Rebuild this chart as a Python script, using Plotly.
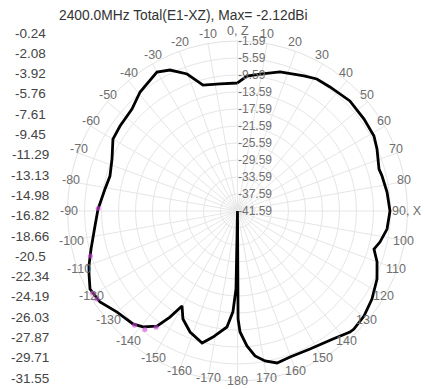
import math
import plotly.graph_objects as go

W, H = 425, 389

# Pattern data: angle (deg, clockwise from Z) and gain (dBi)
theta = [0, 4, 9.3, 17, 26.2, 31, 36.7, 45.6, 54, 61.2, 66, 73.5, 76.4, 82.8, 90,
         96.9, 102.3, 105.6, 110, 116, 123.2, 129.7, 135.4, 137.1, 143.3, 152.3,
         160.2, 165.4, 169.6, 173.1, 176, 178.8, 179.7, 180, 181.1, 182.6, 185.2,
         191, 195, 201.4, 206.8, 210.3, 212.5, 215, 219.2, 222.8, 230, 236.5,
         242.1, 247, 249.7, 255.5, 264, 270.8, 279.4, 285.3, 292.5, 300, 305.9,
         314, 320.7, 329.9, 334.4, 339.8, 344.7, 352.2, 360]
gain = [-11.47, -9.75, -8.93, -7.38, -6.18, -5.35, -5.19, -4.58, -4.79, -4.95, -5.66,
        -6.86, -6.6, -6.13, -5.71, -6.15, -7.28, -8.25, -6.65, -5.07, -3.78, -2.91,
        -2.58, -2.72, -4.01, -4.91, -5.07, -4.65, -5.71, -7.24, -9.75, -13.12,
        -16.18, -41.59, -23.24, -17.83, -14.18, -11.38, -9.43, -11.0, -13.12,
        -15.71, -12.01, -8.55, -6.39, -5.38, -4.6, -2.79, -2.32, -3.64, -4.32,
        -6.0, -7.87, -8.77, -9.99, -10.48, -9.63, -7.75, -7.47, -7.07, -5.4, -3.8,
        -4.81, -7.24, -10.86, -11.42, -11.47]

# highlighted (magenta) samples
mark_theta = [271, 253, 240.5, 238, 222, 218, 215]
mark_gain = [-8.8, -5.4, -2.4, -2.5, -5.4, -6.2, -8.2]

# radial ticks
r_ticks = [-41.59, -37.59, -33.59, -29.59, -25.59, -21.59, -17.59, -13.59, -9.59, -5.59, -1.59]
r_min, r_max = -41.59, -1.59

# angular ticks
ang_vals = list(range(0, 360, 10))
ang_text = []
for a in ang_vals:
    if a == 0:
        ang_text.append("0, Z")
    elif a == 90:
        ang_text.append("90, X")
    elif a <= 180:
        ang_text.append(str(a))
    else:
        ang_text.append(str(a - 360))

# legend scale labels on the left
scale_labels = ["-0.24", "-2.08", "-3.92", "-5.76", "-7.61", "-9.45", "-11.29", "-13.13",
                "-14.98", "-16.82", "-18.66", "-20.5", "-22.34", "-24.19", "-26.03",
                "-27.87", "-29.71", "-31.55"]

title_text = "2400.0MHz Total(E1-XZ), Max= -2.12dBi"

cx, cy, R = 237.5, 211, 170
ring_x, ring_top, ring_bottom = 169, 180, 170  # px radii of the angle-label ring

fig = go.Figure()
fig.add_trace(go.Scatterpolar(r=gain, theta=theta, mode="lines",
                              line=dict(color="black", width=2.8), hoverinfo="skip"))
fig.add_trace(go.Scatterpolar(r=mark_gain, theta=mark_theta, mode="markers",
                              marker=dict(color="#d040e0", size=5, opacity=0.6),
                              hoverinfo="skip"))

fig.update_layout(
    width=W, height=H,
    margin=dict(l=0, r=0, t=0, b=0),
    paper_bgcolor="white",
    showlegend=False,
    font=dict(family="Liberation Sans, Arial, sans-serif"),
    polar=dict(
        bgcolor="white",
        domain=dict(x=[(cx - R) / W, (cx + R) / W],
                    y=[(H - cy - R) / H, (H - cy + R) / H]),
        angularaxis=dict(rotation=90, direction="clockwise",
                         tickmode="array", tickvals=ang_vals,
                         showticklabels=False,
                         ticks="", showline=True, linecolor="#e2e2e2",
                         gridcolor="#e6e6e6", gridwidth=1),
        radialaxis=dict(range=[r_min, r_max], tickmode="array", tickvals=r_ticks,
                        ticktext=[f"{v:.2f}" for v in r_ticks],
                        angle=90, tickangle=90, side="clockwise",
                        showline=False, ticks="",
                        gridcolor="#e6e6e6", gridwidth=1,
                        tickfont=dict(size=12, color="#707070")),
    ),
)

anns = [dict(text=title_text, x=183 / W, y=1 - 15 / H, xref="paper", yref="paper",
             showarrow=False, xanchor="center", yanchor="middle",
             font=dict(size=13.8, color="#333"))]
y0, dy = 33, 20.3
for i, s in enumerate(scale_labels):
    anns.append(dict(text=s, x=30 / W, y=1 - (y0 + i * dy) / H, xref="paper", yref="paper",
                     showarrow=False, xanchor="center", yanchor="middle",
                     font=dict(size=13.5, color="#444")))
# angle labels around the circle
for a, t in zip(ang_vals, ang_text):
    rad = math.radians(a)
    ry = ring_top if math.cos(rad) > 0 else ring_bottom
    lx = cx + ring_x * math.sin(rad)
    ly = cy - ry * math.cos(rad)
    anns.append(dict(text=t, x=lx / W, y=1 - ly / H, xref="paper", yref="paper",
                     showarrow=False, xanchor="center", yanchor="middle",
                     font=dict(size=12.5, color="#6e6e6e")))
fig.update_layout(annotations=anns)

fig.write_html("out.html")
